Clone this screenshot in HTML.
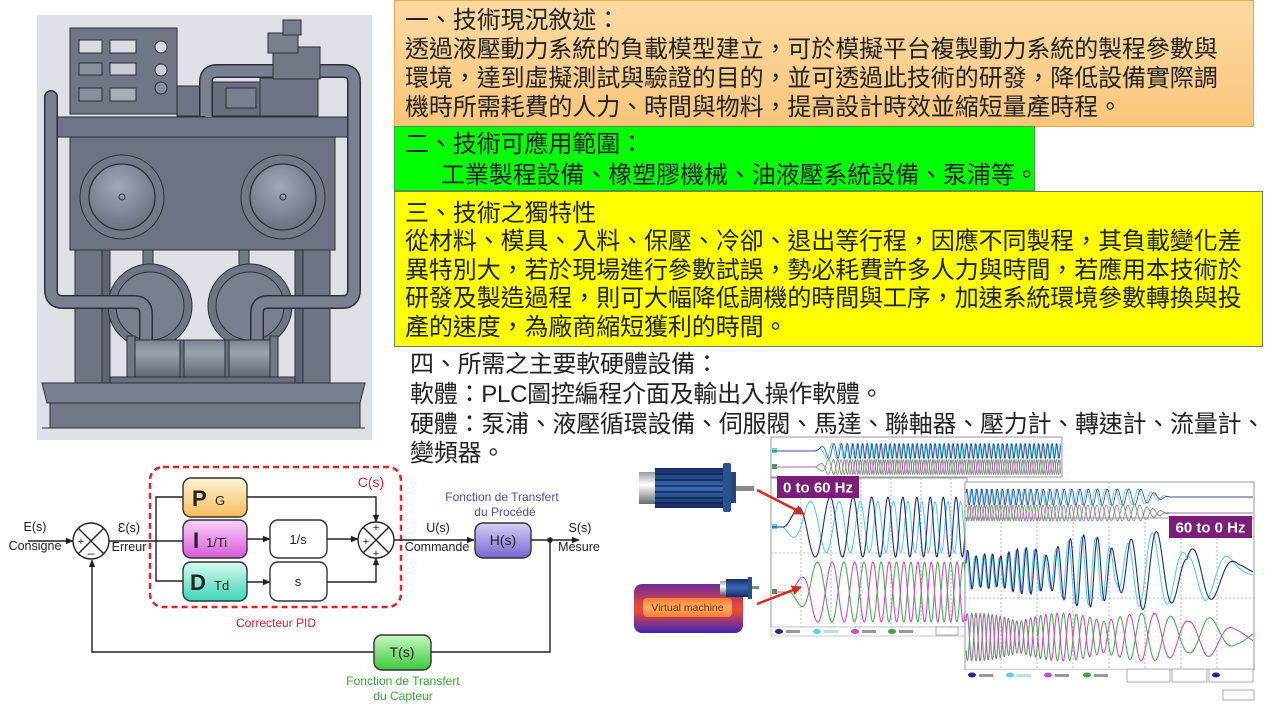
<!DOCTYPE html>
<html><head><meta charset="utf-8">
<style>
html,body{margin:0;padding:0;background:#fff;}
body{width:1280px;height:720px;position:relative;overflow:hidden;font-family:"Liberation Sans","Noto Sans CJK TC",sans-serif;}
.box{position:absolute;box-sizing:border-box;}
.t{position:absolute;white-space:nowrap;font-size:24px;line-height:29px;color:#222;font-family:"Liberation Sans","Noto Sans CJK TC",sans-serif;letter-spacing:-0.1px;}
svg{position:absolute;left:0;top:0;}
</style></head><body>

<svg width="1280" height="720" viewBox="0 0 1280 720" xmlns="http://www.w3.org/2000/svg">
<defs>
<marker id="ar" markerWidth="8" markerHeight="8" refX="7" refY="4" orient="auto" markerUnits="userSpaceOnUse"><path d="M0,0.8 L7.5,4 L0,7.2 z" fill="#222"/></marker>
<marker id="arR" markerWidth="12" markerHeight="12" refX="9" refY="5" orient="auto" markerUnits="userSpaceOnUse"><path d="M0,0 L10,5 L0,10 z" fill="#d42c1f"/></marker>
<linearGradient id="gP" x1="0" y1="0" x2="0" y2="1"><stop offset="0" stop-color="#fff3d6"/><stop offset="1" stop-color="#f4bd5c"/></linearGradient>
<linearGradient id="gI" x1="0" y1="0" x2="0" y2="1"><stop offset="0" stop-color="#fad2f8"/><stop offset="1" stop-color="#d65ad8"/></linearGradient>
<linearGradient id="gD" x1="0" y1="0" x2="0" y2="1"><stop offset="0" stop-color="#d8faf1"/><stop offset="1" stop-color="#3fd4b8"/></linearGradient>
<linearGradient id="gH" x1="0" y1="0" x2="0" y2="1"><stop offset="0" stop-color="#d6d0f6"/><stop offset="1" stop-color="#7566cc"/></linearGradient>
<linearGradient id="gT" x1="0" y1="0" x2="0" y2="1"><stop offset="0" stop-color="#c8f8c0"/><stop offset="1" stop-color="#3cc83c"/></linearGradient>
<radialGradient id="gC" cx="0.45" cy="0.35" r="0.7"><stop offset="0" stop-color="#a3a8b8"/><stop offset="1" stop-color="#686d7d"/></radialGradient>
<linearGradient id="gMot" x1="0" y1="0" x2="0" y2="1"><stop offset="0" stop-color="#16306a"/><stop offset="0.5" stop-color="#3a6ab4"/><stop offset="1" stop-color="#132a5e"/></linearGradient>
<linearGradient id="gCap" x1="0" y1="0" x2="0" y2="1"><stop offset="0" stop-color="#9a9a9a"/><stop offset="0.4" stop-color="#ffffff"/><stop offset="1" stop-color="#6a6a6a"/></linearGradient>
<linearGradient id="gVM" x1="0" y1="0" x2="0" y2="1"><stop offset="0" stop-color="#6a2a9e"/><stop offset="0.45" stop-color="#e84a3a"/><stop offset="0.55" stop-color="#e84a3a"/><stop offset="1" stop-color="#3b22b8"/></linearGradient>
<linearGradient id="gVMi" x1="0" y1="0" x2="0" y2="1"><stop offset="0" stop-color="#ff7a30"/><stop offset="0.5" stop-color="#ffb060"/><stop offset="1" stop-color="#ff7a30"/></linearGradient>
<linearGradient id="gCyl" x1="0" y1="0" x2="0" y2="1"><stop offset="0" stop-color="#7d8292"/><stop offset="0.35" stop-color="#9ca1b0"/><stop offset="1" stop-color="#626776"/></linearGradient>
</defs>

<!-- ========== MACHINE ========== -->
<g stroke="#2c2f37" stroke-width="1">
<rect x="37" y="15" width="335" height="425" fill="#dde0e6" stroke="none"/>
<rect x="70" y="28" width="107" height="86" fill="#717687"/>
<rect x="79" y="40" width="23" height="13" fill="#d8dbe1"/>
<rect x="110" y="40" width="26" height="13" fill="#d8dbe1"/>
<rect x="79" y="63" width="23" height="12" fill="#8a8fa0"/>
<rect x="110" y="63" width="26" height="12" fill="#c9ccd4"/>
<rect x="79" y="88" width="23" height="13" fill="#8a8fa0"/>
<rect x="110" y="88" width="26" height="13" fill="#a9adb8"/>
<circle cx="161" cy="47" r="6" fill="#d8dbe1"/>
<circle cx="161" cy="70" r="6" fill="#c9ccd4"/>
<circle cx="161" cy="88" r="6" fill="#8a8fa0"/>
<rect x="177" y="86" width="28" height="30" fill="#6f7484"/>
<rect x="212" y="82" width="50" height="34" fill="#6a6f7f"/>
<rect x="226" y="88" width="30" height="20" fill="#7a7f8f"/>
<rect x="57" y="117" width="291" height="20" fill="#70758a"/>
<rect x="70" y="137" width="265" height="113" fill="#6e7383"/>
<circle cx="122" cy="197" r="42" fill="#737888"/>
<circle cx="122" cy="197" r="33" fill="url(#gC)" stroke-width="1.3"/>
<circle cx="122" cy="197" r="3" fill="none"/>
<circle cx="283" cy="197" r="42" fill="#737888"/>
<circle cx="283" cy="197" r="33" fill="url(#gC)" stroke-width="1.3"/>
<circle cx="283" cy="197" r="3" fill="none"/>
<rect x="75" y="250" width="27" height="142" fill="#6f7484"/>
<rect x="102" y="250" width="8" height="142" fill="#5f6474"/>
<rect x="303" y="250" width="27" height="142" fill="#6f7484"/>
<rect x="295" y="250" width="8" height="142" fill="#5f6474"/>
<rect x="143" y="250" width="10" height="18" fill="#737888"/>
<rect x="239" y="250" width="10" height="18" fill="#737888"/>
<circle cx="150" cy="306" r="42" fill="#6f7484"/>
<circle cx="150" cy="306" r="34" fill="#7a7f8f"/>
<circle cx="250" cy="306" r="42" fill="#6f7484"/>
<circle cx="250" cy="306" r="34" fill="#7a7f8f"/>
</g>
<path d="M206,116 L206,82 Q206,71 217,71 L343,71 Q354,71 354,82 L354,290 Q354,302 342,302 L268,302 Q257,302 257,313 L257,342" fill="none" stroke="#2c2f37" stroke-width="14"/>
<path d="M206,116 L206,82 Q206,71 217,71 L343,71 Q354,71 354,82 L354,290 Q354,302 342,302 L268,302 Q257,302 257,313 L257,342" fill="none" stroke="#7b8090" stroke-width="11"/>
<path d="M51,97 L51,290 Q51,302 63,302 L134,302 Q146,302 146,314 L146,342" fill="none" stroke="#2c2f37" stroke-width="14" stroke-linecap="round"/>
<path d="M51,97 L51,290 Q51,302 63,302 L134,302 Q146,302 146,314 L146,342" fill="none" stroke="#7b8090" stroke-width="11" stroke-linecap="round"/>
<g stroke="#2c2f37" stroke-width="1">
<rect x="260" y="78" width="58" height="38" fill="#6f7484"/>
<rect x="273" y="47" width="47" height="32" fill="#737888"/>
<rect x="268" y="33" width="30" height="20" fill="#7a7f8f"/>
<rect x="283" y="20" width="18" height="15" fill="#7a7f8f"/>
<rect x="127" y="340" width="151" height="37" rx="6" fill="url(#gCyl)"/>
<rect x="127" y="336" width="8" height="45" fill="#737888"/>
<rect x="270" y="336" width="8" height="45" fill="#737888"/>
<rect x="180" y="340" width="4" height="37" fill="#6a6f7f"/>
<rect x="225" y="340" width="4" height="37" fill="#6a6f7f"/>
<rect x="110" y="377" width="185" height="15" fill="#6a6f7f"/>
<polygon points="42,383 365,383 360,403 47,403" fill="#7a7f8f"/>
<rect x="50" y="403" width="310" height="25" fill="#737888"/>
<line x1="42" y1="428" x2="365" y2="428"/>
</g>

<!-- ========== PID DIAGRAM ========== -->
<g font-family="Liberation Sans, Arial, sans-serif" fill="#222">
<rect x="150" y="467" width="251" height="140" rx="13" fill="none" stroke="#d9262c" stroke-width="2.5" stroke-dasharray="6 4"/>
<g stroke="#222" stroke-width="1.4" fill="none">
<line x1="28" y1="541" x2="73" y2="541" marker-end="url(#ar)"/>
<circle cx="91" cy="541" r="18"/>
<line x1="78.3" y1="528.3" x2="103.7" y2="553.7"/>
<line x1="103.7" y1="528.3" x2="78.3" y2="553.7"/>
<line x1="109" y1="541" x2="183" y2="541"/>
<polyline points="183,497 156,497 156,581 183,581"/>
<line x1="247" y1="539" x2="270" y2="539" marker-end="url(#ar)"/>
<line x1="247" y1="582" x2="270" y2="582" marker-end="url(#ar)"/>
<polyline points="247,497 376,497 376,522" marker-end="url(#ar)"/>
<line x1="327" y1="539" x2="358" y2="539" marker-end="url(#ar)"/>
<polyline points="327,582 376,582 376,558" marker-end="url(#ar)"/>
<circle cx="376" cy="540" r="18"/>
<line x1="363.3" y1="527.3" x2="388.7" y2="552.7"/>
<line x1="388.7" y1="527.3" x2="363.3" y2="552.7"/>
<line x1="394" y1="540" x2="474" y2="540" marker-end="url(#ar)"/>
<line x1="531" y1="540" x2="579" y2="540" marker-end="url(#ar)"/>
<polyline points="550,540 550,652 431,652"/>
<polyline points="374,652 92,652 92,560" marker-end="url(#ar)"/>
</g>
<circle cx="550" cy="540" r="2.8" fill="#222"/>
<rect x="183" y="478" width="64" height="39" rx="8" fill="url(#gP)" stroke="#333" stroke-width="1.4"/>
<rect x="183" y="520" width="64" height="38" rx="8" fill="url(#gI)" stroke="#333" stroke-width="1.4"/>
<rect x="183" y="562" width="64" height="39" rx="8" fill="url(#gD)" stroke="#333" stroke-width="1.4"/>
<rect x="270" y="520" width="57" height="38" rx="8" fill="#fff" stroke="#333" stroke-width="1.4"/>
<rect x="270" y="562" width="57" height="39" rx="8" fill="#fff" stroke="#333" stroke-width="1.4"/>
<rect x="475" y="523" width="56" height="35" rx="8" fill="url(#gH)" stroke="#333" stroke-width="1.4"/>
<rect x="374" y="635" width="57" height="35" rx="8" fill="url(#gT)" stroke="#333" stroke-width="1.4"/>

<text x="192" y="506" font-size="22" font-weight="bold">P</text>
<text x="215" y="505" font-size="13">G</text>
<text x="193" y="548" font-size="22" font-weight="bold">I</text>
<text x="206" y="547" font-size="13">1/Ti</text>
<text x="190" y="590" font-size="22" font-weight="bold">D</text>
<text x="214" y="590" font-size="13">Td</text>
<text x="298" y="544" font-size="13" text-anchor="middle">1/s</text>
<text x="298" y="586" font-size="13" text-anchor="middle">s</text>
<text x="503" y="545" font-size="14" text-anchor="middle">H(s)</text>
<text x="402" y="657" font-size="14" text-anchor="middle">T(s)</text>
<text x="81" y="545" font-size="11" text-anchor="middle">+</text>
<text x="91" y="557" font-size="12" text-anchor="middle">–</text>
<text x="376" y="531" font-size="11" text-anchor="middle">+</text>
<text x="366" y="545" font-size="11" text-anchor="middle">+</text>
<text x="376" y="557" font-size="11" text-anchor="middle">+</text>
<text x="35" y="531" font-size="12.5" text-anchor="middle">E(s)</text>
<text x="35" y="550" font-size="12.5" text-anchor="middle">Consigne</text>
<text x="129" y="532" font-size="12.5" text-anchor="middle">Ɛ(s)</text>
<text x="129" y="551" font-size="12.5" text-anchor="middle">Erreur</text>
<text x="438" y="532" font-size="12.5" text-anchor="middle">U(s)</text>
<text x="437" y="551" font-size="12.5" text-anchor="middle">Commande</text>
<text x="580" y="532" font-size="12.5" text-anchor="middle">S(s)</text>
<text x="579" y="551" font-size="12.5" text-anchor="middle">Mesure</text>
<text x="502" y="501" font-size="12" text-anchor="middle" fill="#5a48b0">Fonction de Transfert</text>
<text x="505" y="516" font-size="12" text-anchor="middle" fill="#5a48b0">du Procédé</text>
<text x="371" y="487" font-size="14" text-anchor="middle" fill="#d9262c">C(s)</text>
<text x="276" y="627" font-size="12" text-anchor="middle" fill="#d9262c">Correcteur PID</text>
<text x="403" y="685" font-size="12" text-anchor="middle" fill="#3aa63a">Fonction de Transfert</text>
<text x="403" y="700" font-size="12" text-anchor="middle" fill="#3aa63a">du Capteur</text>
</g>

<!-- ========== SCOPES ========== -->
<g>
<rect x="771" y="437" width="291" height="40" fill="#fff" stroke="#9a9a9a"/>
<rect x="771" y="478" width="196" height="149" fill="#fff" stroke="#9a9a9a"/>
<g stroke="#aaa" stroke-width="0.8" stroke-dasharray="2 2">
<line x1="771" y1="553" x2="966" y2="553"/>
<line x1="801" y1="478" x2="801" y2="627"/>
<line x1="831" y1="478" x2="831" y2="627"/>
<line x1="861" y1="478" x2="861" y2="627"/>
<line x1="891" y1="478" x2="891" y2="627"/>
<line x1="921" y1="478" x2="921" y2="627"/>
<line x1="951" y1="478" x2="951" y2="627"/>
</g>
<rect x="771" y="627" width="196" height="9" fill="#fff" stroke="#bbb" stroke-width="0.8"/>
<ellipse cx="779" cy="631.5" rx="4" ry="2.5" fill="#1f2a90"/>
<ellipse cx="817" cy="631.5" rx="4" ry="2.5" fill="#5fd0e0"/>
<ellipse cx="855" cy="631.5" rx="4" ry="2.5" fill="#c050c8"/>
<ellipse cx="892" cy="631.5" rx="4" ry="2.5" fill="#40a040"/>
<rect x="786" y="630" width="14" height="3" fill="#999"/>
<rect x="824" y="630" width="14" height="3" fill="#bde"/>
<rect x="862" y="630" width="14" height="3" fill="#999"/>
<rect x="899" y="630" width="14" height="3" fill="#999"/>
<rect x="936" y="627" width="22" height="8" fill="#fff" stroke="#999" stroke-width="0.8"/>
<rect x="772" y="524" width="5" height="5" fill="#5fd0e0"/>
<rect x="772" y="589" width="5" height="5" fill="#40a040"/>
<rect x="772" y="448" width="5" height="5" fill="#5fd0e0"/>
<rect x="772" y="464" width="5" height="5" fill="#40a040"/>
</g>
<g id="wavesL"></g>

<g>
<rect x="965" y="482" width="289" height="36" fill="#fff" stroke="#9a9a9a"/>
<rect x="965" y="518" width="289" height="152" fill="#fff" stroke="#9a9a9a"/>
<g stroke="#aaa" stroke-width="0.8" stroke-dasharray="2 2">
<line x1="965" y1="598" x2="1254" y2="598"/>
<line x1="1001" y1="518" x2="1001" y2="670"/>
<line x1="1037" y1="518" x2="1037" y2="670"/>
<line x1="1073" y1="518" x2="1073" y2="670"/>
<line x1="1109" y1="482" x2="1109" y2="670"/>
<line x1="1145" y1="518" x2="1145" y2="670"/>
<line x1="1181" y1="518" x2="1181" y2="670"/>
<line x1="1217" y1="518" x2="1217" y2="670"/>
</g>
<rect x="965" y="670" width="289" height="12" fill="#fff"/>
<ellipse cx="972" cy="675" rx="4" ry="2.5" fill="#1f2a90"/>
<ellipse cx="1010" cy="675" rx="4" ry="2.5" fill="#5fd0e0"/>
<ellipse cx="1048" cy="675" rx="4" ry="2.5" fill="#c050c8"/>
<ellipse cx="1087" cy="675" rx="4" ry="2.5" fill="#40a040"/>
<rect x="979" y="674" width="14" height="3" fill="#999"/>
<rect x="1017" y="674" width="14" height="3" fill="#bde"/>
<rect x="1055" y="674" width="14" height="3" fill="#999"/>
<rect x="1094" y="674" width="14" height="3" fill="#999"/>
<rect x="1127" y="669" width="43" height="13" fill="#fff" stroke="#999" stroke-width="0.8"/>
<rect x="1172" y="669" width="35" height="13" fill="#fff" stroke="#999" stroke-width="0.8"/>
<rect x="1209" y="669" width="44" height="13" fill="#fff" stroke="#999" stroke-width="0.8"/>
<ellipse cx="1216" cy="675" rx="4" ry="2.5" fill="#1f2a90"/>
<rect x="1223" y="690" width="31" height="10" fill="#fff" stroke="#999" stroke-width="0.8"/>
</g>
<g id="wavesR"></g>

<rect x="777" y="476" width="82" height="22" fill="#7b1e7a"/>
<text x="818" y="492.5" font-family="Liberation Sans, Arial, sans-serif" font-size="15" font-weight="bold" fill="#fff" text-anchor="middle">0 to 60 Hz</text>
<rect x="1169" y="516" width="83" height="22" fill="#7b1e7a"/>
<text x="1210.5" y="532.5" font-family="Liberation Sans, Arial, sans-serif" font-size="15" font-weight="bold" fill="#fff" text-anchor="middle">60 to 0 Hz</text>

<rect x="639" y="472" width="17" height="32" fill="url(#gCap)"/>
<rect x="655" y="468" width="68" height="40" fill="url(#gMot)"/>
<g stroke="#0e1f48" stroke-width="1.2"><line x1="655" y1="474" x2="723" y2="474"/><line x1="655" y1="480" x2="723" y2="480"/><line x1="655" y1="486" x2="723" y2="486"/><line x1="655" y1="492" x2="723" y2="492"/><line x1="655" y1="498" x2="723" y2="498"/><line x1="655" y1="503" x2="723" y2="503"/></g>
<rect x="723" y="463" width="8" height="49" rx="2" fill="#2a528f"/>
<rect x="731" y="472" width="5" height="31" fill="#23457c"/>
<rect x="736" y="486" width="18" height="5" fill="#8a8a8a"/>

<rect x="634" y="584" width="109" height="49" rx="8" fill="url(#gVM)"/>
<rect x="643" y="598" width="89" height="19" rx="4" fill="url(#gVMi)"/>
<text x="687.5" y="611" font-family="Liberation Sans, Arial, sans-serif" font-size="10.5" fill="#6a2a10" text-anchor="middle">Virtual machine</text>
<rect x="720" y="581" width="6" height="14" fill="url(#gCap)"/>
<rect x="726" y="579" width="22" height="18" fill="url(#gMot)"/>
<rect x="748" y="577" width="4" height="22" fill="#2a528f"/>
<rect x="752" y="586" width="7" height="3" fill="#8a8a8a"/>

<line x1="757" y1="490" x2="804" y2="514" stroke="#d42c1f" stroke-width="2.5" marker-end="url(#arR)"/>
<line x1="757" y1="604" x2="801" y2="587" stroke="#d42c1f" stroke-width="2.5" marker-end="url(#arR)"/>
</svg>

<!-- ========== TEXT BOXES ========== -->
<div class="box" style="left:394px;top:0;width:860px;height:127px;background:linear-gradient(#fcd9a2,#f8c57c);border:1px solid #e6ac4c;"></div>
<div class="box" style="left:394px;top:126px;width:641px;height:65px;background:#00ff00;border:1px solid #3aa83a;"></div>
<div class="box" style="left:394px;top:191px;width:869px;height:156px;background:#ffff00;border:1px solid #6f7f5f;"></div>

<div class="t" style="left:405px;top:6px;">一、技術現況敘述：</div>
<div class="t" style="left:405px;top:35px;">透過液壓動力系統的負載模型建立，可於模擬平台複製動力系統的製程參數與</div>
<div class="t" style="left:405px;top:64px;">環境，達到虛擬測試與驗證的目的，並可透過此技術的研發，降低設備實際調</div>
<div class="t" style="left:405px;top:93px;">機時所需耗費的人力、時間與物料，提高設計時效並縮短量產時程。</div>

<div class="t" style="left:405px;top:130px;">二、技術可應用範圍：</div>
<div class="t" style="left:441px;top:161px;">工業製程設備、橡塑膠機械、油液壓系統設備、泵浦等。</div>

<div class="t" style="left:405px;top:199px;">三、技術之獨特性</div>
<div class="t" style="left:405px;top:227px;">從材料、模具、入料、保壓、冷卻、退出等行程，因應不同製程，其負載變化差</div>
<div class="t" style="left:405px;top:256px;">異特別大，若於現場進行參數試誤，勢必耗費許多人力與時間，若應用本技術於</div>
<div class="t" style="left:405px;top:284px;">研發及製造過程，則可大幅降低調機的時間與工序，加速系統環境參數轉換與投</div>
<div class="t" style="left:405px;top:313px;">產的速度，為廠商縮短獲利的時間。</div>

<div class="t" style="left:410px;top:350px;letter-spacing:-0.25px;">四、所需之主要軟硬體設備：</div>
<div class="t" style="left:410px;top:380px;letter-spacing:-0.25px;">軟體：PLC圖控編程介面及輸出入操作軟體。</div>
<div class="t" style="left:410px;top:410px;letter-spacing:-0.25px;">硬體：泵浦、液壓循環設備、伺服閥、馬達、聯軸器、壓力計、轉速計、流量計、</div>
<div class="t" style="left:410px;top:439px;letter-spacing:-0.25px;">變頻器。</div>

<script>
(function(){
var NS='http://www.w3.org/2000/svg';
function P(gid,d,c,w){var g=document.getElementById(gid);var p=document.createElementNS(NS,'path');p.setAttribute('d',d);p.setAttribute('fill','none');p.setAttribute('stroke',c);p.setAttribute('stroke-width',w);p.setAttribute('stroke-linejoin','round');g.appendChild(p);}
function W(x0,x1,start,yc,per,amp,ph0,step){
  step=step||0.5;var ph=ph0,d='';
  for(var x=x0;x<=x1+1e-6;x+=step){
    var y=yc;
    if(x>=start){ph+=2*Math.PI*step/per(x);y=yc-amp(x)*Math.sin(ph);}
    d+=(d?'L':'M')+x.toFixed(1)+','+y.toFixed(1);
  }
  return d;
}
var NAVY='#1f2a80',CY='#5fcfe0',MG='#c850c8',GR='#4cb050';
var per1=function(x){return 12+48*Math.exp(-(x-783)/40);};
var amp1=function(x){return Math.min(1,(x-783)/22)*30;};
P('wavesL',W(772,965,783,527,per1,function(x){return amp1(x)*0.85;},4.0),CY,1.1);
P('wavesL',W(772,965,783,527,per1,amp1,0),NAVY,1.1);
var amp1b=function(x){return Math.min(1,(x-790)/22)*30;};
P('wavesL',W(772,965,790,592,per1,amp1b,3.5),GR,1.1);
P('wavesL',W(772,965,790,592,per1,amp1b,0.3),MG,1.1);
var per0=function(x){return 4.5+30*Math.exp(-(x-815)/10);};
var amp0=function(x){return Math.min(1,(x-815)/12)*7.5;};
P('wavesL',W(772,1061,815,451,per0,amp0,1.2,0.4),CY,0.9);
P('wavesL',W(772,1061,815,451,per0,amp0,0,0.4),NAVY,0.7);
P('wavesL',W(772,1061,815,467,per0,amp0,3.3,0.4),GR,0.9);
P('wavesL',W(772,1061,815,467,per0,amp0,0.4,0.4),MG,0.7);
var per2=function(x){return x<1105?(11+3*Math.sin(x*0.03)):(14+(x-1105)*0.3);};
var amp2=function(x){var a=40*(0.35+0.65*Math.pow(Math.abs(Math.sin(x*0.045)*Math.cos(x*0.011)),0.7));if(x>1205)a*=Math.max(0.25,1-(x-1205)/45);return a;};
P('wavesR',W(966,1253,966,571,per2,function(x){return amp2(x)*0.95;},0.9),CY,1.1);
P('wavesR',W(966,1253,966,571,per2,amp2,0),NAVY,1.1);
var amp3=function(x){var a=24*(0.65+0.35*Math.abs(Math.sin(x*0.037)));if(x>1205)a*=Math.max(0.3,1-(x-1205)/45);return a;};
P('wavesR',W(966,1253,966,637,per2,amp3,3.4),GR,1.1);
P('wavesR',W(966,1253,966,637,per2,amp3,0.4),MG,1.1);
var per4=function(x){var t=(x-966)/200;return 5+10*t*t;};
var amp4=function(x){return x<1140?8:Math.max(0,8*(1-(x-1140)/30));};
P('wavesR',W(966,1253,966,497,per4,amp4,1.3,0.4),CY,0.9);
P('wavesR',W(966,1253,966,497,per4,amp4,0,0.4),NAVY,0.7);
P('wavesR',W(966,1253,966,513,per4,amp4,3.2,0.4),GR,0.9);
P('wavesR',W(966,1253,966,513,per4,amp4,0.5,0.4),MG,0.7);
})();
</script>
</body></html>
